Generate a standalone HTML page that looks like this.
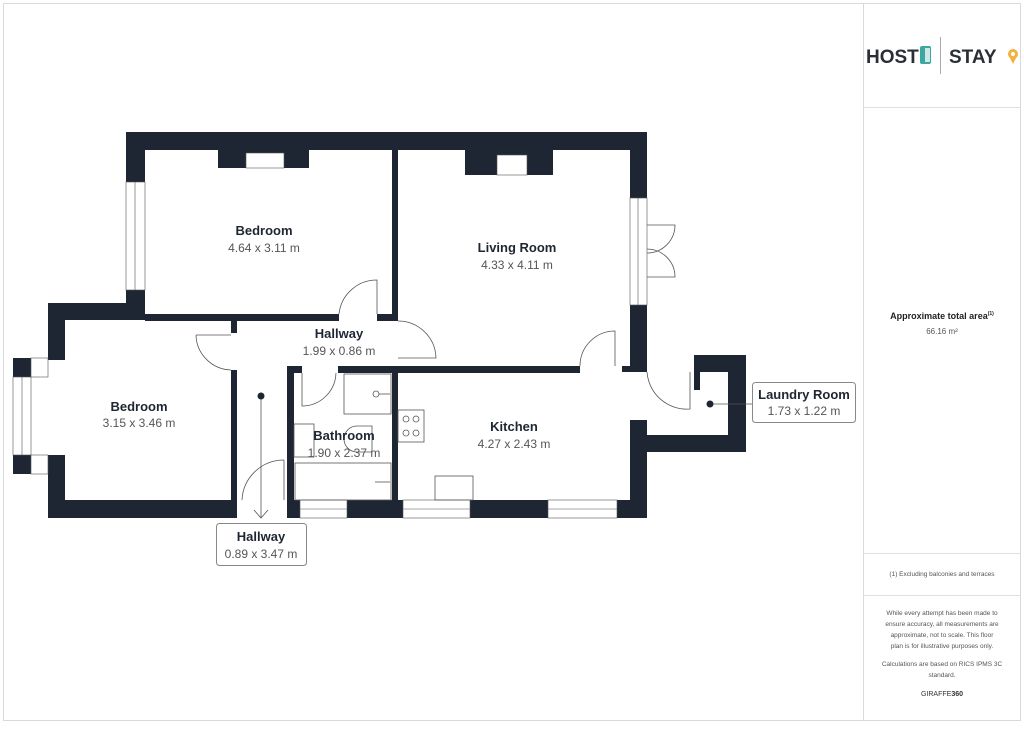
<!DOCTYPE html>
<html><head><meta charset="utf-8"><style>
html,body{margin:0;padding:0;background:#fff;}
body{width:1024px;height:724px;overflow:hidden;font-family:"Liberation Sans","DejaVu Sans",sans-serif;}
</style></head><body>
<svg width="1024" height="724" viewBox="0 0 1024 724" xmlns="http://www.w3.org/2000/svg" font-family="Liberation Sans, DejaVu Sans, sans-serif">
<rect x="3.5" y="3.5" width="1017" height="717" fill="#fff" stroke="#d9d9d9"/>
<line x1="863.5" y1="4" x2="863.5" y2="720" stroke="#d9d9d9"/>
<line x1="864" y1="107.5" x2="1020" y2="107.5" stroke="#e0e0e0"/>
<line x1="864" y1="553.5" x2="1020" y2="553.5" stroke="#e0e0e0"/>
<line x1="864" y1="595.5" x2="1020" y2="595.5" stroke="#e0e0e0"/>
<!-- logo -->
<text x="866" y="63" font-size="19" font-weight="bold" fill="#2a2f36">HOST</text>
<rect x="920" y="46" width="11" height="18" rx="2" fill="#3aa7a0"/><rect x="925" y="48" width="5" height="14" fill="#cfe8e6"/>
<line x1="940.5" y1="37" x2="940.5" y2="74" stroke="#aaa"/>
<text x="949" y="63" font-size="19" font-weight="bold" fill="#2a2f36">STAY</text>
<circle cx="1013" cy="54" r="5" fill="#f1b13b"/><path d="M1009 56 L1013 64 L1017 56Z" fill="#f1b13b"/><circle cx="1013" cy="54" r="2" fill="#fff"/>
<text x="942" y="319" font-size="9" font-weight="bold" fill="#222" text-anchor="middle">Approximate total area<tspan font-size="5" dy="-4">(1)</tspan></text>
<text x="942" y="334" font-size="8" fill="#555" text-anchor="middle">66.16 m²</text>
<text x="942" y="576" font-size="6.5" fill="#555" text-anchor="middle">(1) Excluding balconies and terraces</text>
<g font-size="6.5" fill="#555" text-anchor="middle">
<text x="942" y="615">While every attempt has been made to</text>
<text x="942" y="626">ensure accuracy, all measurements are</text>
<text x="942" y="637">approximate, not to scale. This floor</text>
<text x="942" y="648">plan is for illustrative purposes only.</text>
<text x="942" y="666">Calculations are based on RICS IPMS 3C</text>
<text x="942" y="677">standard.</text>
</g>
<text x="942" y="696" font-size="7" fill="#333" text-anchor="middle">GIRAFFE<tspan font-weight="bold">360</tspan></text>

<!-- walls -->
<g fill="#1e2633">
<rect x="126" y="132" width="521" height="18"/>
<rect x="126" y="132" width="19" height="50"/>
<rect x="126" y="290" width="19" height="30"/>
<rect x="48" y="303" width="97" height="17"/>
<rect x="48" y="303" width="17" height="57"/>
<rect x="13" y="358" width="18" height="19"/>
<rect x="13" y="455" width="18" height="19"/>
<rect x="48" y="455" width="17" height="63"/>
<rect x="48" y="500" width="189" height="18"/>
<rect x="231" y="370" width="6" height="130"/>
<rect x="231" y="320" width="6" height="13"/>
<rect x="145" y="314" width="194" height="7"/>
<rect x="377" y="314" width="21" height="7"/>
<rect x="392" y="150" width="6" height="171"/>
<rect x="218" y="150" width="91" height="18"/>
<rect x="465" y="150" width="88" height="25"/>
<rect x="630" y="132" width="17" height="66"/>
<rect x="630" y="305" width="17" height="67"/>
<rect x="622" y="366" width="25" height="6"/>
<rect x="630" y="420" width="17" height="98"/>
<rect x="287" y="366" width="15" height="7"/>
<rect x="287" y="366" width="7" height="152"/>
<rect x="338" y="366" width="242" height="7"/>
<rect x="392" y="366" width="6" height="134"/>
<rect x="287" y="500" width="360" height="18"/>
<path d="M694 355 H746 V452 H647 V435 H728 V372 H700 V390 H694 Z"/>
</g>
<!-- window inserts -->
<g fill="#fff" stroke="#555" stroke-width="0.6">
<rect x="246" y="153" width="38" height="15"/>
<rect x="497" y="155" width="30" height="20"/>
<rect x="126" y="182" width="19" height="108"/>
<line x1="135" y1="182" x2="135" y2="290"/>
<rect x="13" y="377" width="18" height="78"/>
<line x1="22" y1="377" x2="22" y2="455"/>
<rect x="31" y="358" width="17" height="19"/><rect x="31" y="455" width="17" height="19"/>
<rect x="630" y="198" width="17" height="107"/>
<line x1="638" y1="198" x2="638" y2="305"/>
<rect x="300" y="500" width="47" height="18"/><line x1="300" y1="509" x2="347" y2="509"/>
<rect x="403" y="500" width="67" height="18"/><line x1="403" y1="509" x2="470" y2="509"/>
<rect x="548" y="500" width="69" height="18"/><line x1="548" y1="509" x2="617" y2="509"/>
</g>
<!-- doors & fixtures -->
<g fill="none" stroke="#555" stroke-width="0.8">
<path d="M339 314 A38 38 0 0 1 377 280 L377 314"/>
<path d="M398 321 A38 38 0 0 1 436 358 L398 358"/>
<path d="M196 335 L231 335 M196 335 A36 36 0 0 0 231 370"/>
<path d="M302 373 L302 406 A34 34 0 0 0 336 373"/>
<path d="M580 366 A35 35 0 0 1 615 331 L615 366"/>
<path d="M647 372 A40 40 0 0 0 690 409 L690 372"/>
<path d="M284 460 A42 42 0 0 0 242 500 M284 460 L284 500"/>
<path d="M647 225 L675 225 A28 28 0 0 1 647 253 M647 277 L675 277 A28 28 0 0 0 647 249"/>
<rect x="344" y="374" width="47" height="40"/>
<circle cx="376" cy="394" r="3"/><line x1="379" y1="394" x2="390" y2="394"/>
<rect x="294" y="424" width="20" height="33"/>
<rect x="295" y="463" width="96" height="37"/>
<line x1="375" y1="482" x2="390" y2="482"/>
<path d="M372 426 L357 426 A13 13 0 0 0 357 452 L372 452Z"/>
<rect x="398" y="410" width="26" height="32"/>
<circle cx="406" cy="419" r="3"/><circle cx="416" cy="419" r="3"/><circle cx="406" cy="433" r="3"/><circle cx="416" cy="433" r="3"/>
<rect x="435" y="476" width="38" height="24"/>
<line x1="261" y1="396" x2="261" y2="518"/>
<path d="M254 510 L261 518 L268 510"/>
<line x1="711" y1="404" x2="752" y2="404"/>
</g>
<circle cx="261" cy="396" r="3.5" fill="#1e2633"/>
<circle cx="710" cy="404" r="3.5" fill="#1e2633"/>
<rect x="216.5" y="523.5" width="90" height="42" rx="3" fill="#fff" stroke="#888"/>
<rect x="752.5" y="382.5" width="103" height="40" rx="3" fill="#fff" stroke="#888"/>
<!-- labels -->
<g text-anchor="middle">
<g font-size="13" font-weight="bold" fill="#1e2633">
<text x="264" y="235">Bedroom</text>
<text x="517" y="252">Living Room</text>
<text x="339" y="338">Hallway</text>
<text x="139" y="411">Bedroom</text>
<text x="514" y="431">Kitchen</text>
<text x="344" y="440">Bathroom</text>
<text x="261" y="541">Hallway</text>
<text x="804" y="399">Laundry Room</text>
</g>
<g font-size="12" fill="#555">
<text x="264" y="252">4.64 x 3.11 m</text>
<text x="517" y="269">4.33 x 4.11 m</text>
<text x="339" y="355">1.99 x 0.86 m</text>
<text x="139" y="427">3.15 x 3.46 m</text>
<text x="514" y="448">4.27 x 2.43 m</text>
<text x="344" y="457">1.90 x 2.37 m</text>
<text x="261" y="558">0.89 x 3.47 m</text>
<text x="804" y="415">1.73 x 1.22 m</text>
</g>
</g>
</svg>
</body></html>
